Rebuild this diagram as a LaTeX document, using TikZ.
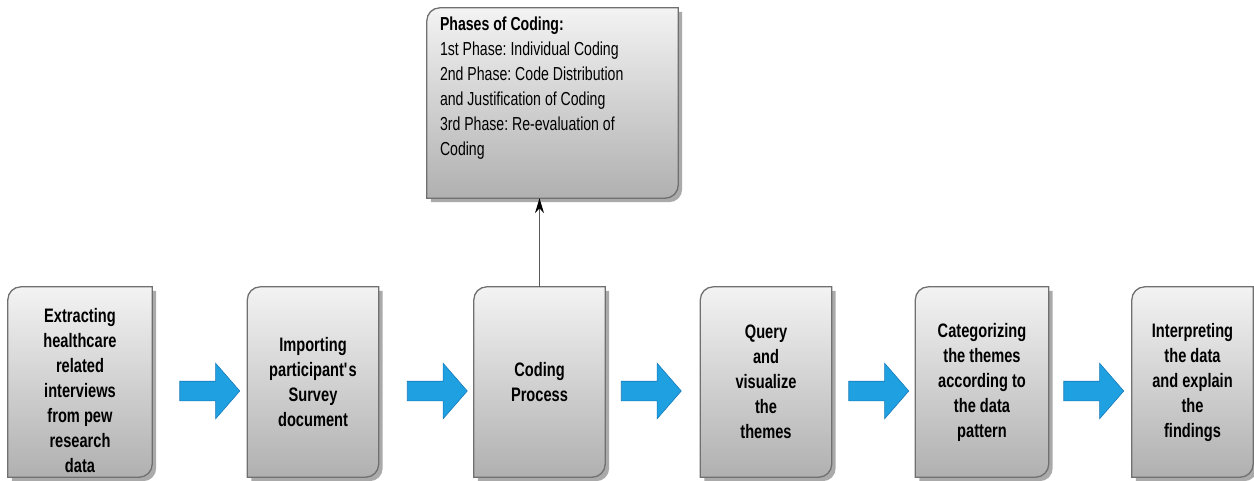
\documentclass[tikz,border=0pt]{standalone}
\usepackage{fontspec}
\setmainfont{Liberation Sans}[FakeStretch=0.75]
\usetikzlibrary{positioning,shapes.arrows,arrows.meta}
\pgfdeclarelayer{background}
\pgfsetlayers{background,main}

\definecolor{boxtop}{RGB}{243,243,243}
\definecolor{boxbottom}{RGB}{176,176,176}
\definecolor{boxline}{RGB}{112,112,112}
\definecolor{boxshadow}{RGB}{170,170,170}
\definecolor{flowblue}{RGB}{30,160,225}
\definecolor{flowblueline}{RGB}{24,122,186}

% outline with rounded top-left and bottom-right corners
\newcommand{\leafpath}[2]{([shift={#2}]#1.south west) -- ([shift={#2},yshift=-13pt]#1.north west)
  arc[start angle=180,end angle=90,radius=13pt] -- ([shift={#2}]#1.north east)
  -- ([shift={#2},yshift=13pt]#1.south east) arc[start angle=0,end angle=-90,radius=13pt] -- cycle}
\newcommand{\leafbox}[1]{%
  \begin{pgfonlayer}{background}
    \fill[boxshadow] \leafpath{#1}{(4,4)};
    \draw[draw=boxline,line width=1.3pt,top color=boxtop,bottom color=boxbottom] \leafpath{#1}{(0,0)};
  \end{pgfonlayer}}

\begin{document}
\frenchspacing
\begin{tikzpicture}[
	x=1pt,y=-1pt,
	leafnode/.style={
		rectangle,minimum width=131pt,minimum height=190pt,inner sep=0pt,
		align=center,font=\bfseries\fontsize{19.5}{25}\selectfont},
	phasetext/.style={
		anchor=north west,align=left,inner sep=0pt,
		font=\fontsize{18.8}{25}\selectfont},
	flowarrow/.style={
		single arrow,draw=flowblueline,fill=flowblue,line width=0.6pt,
		minimum height=60pt,minimum width=0pt,inner xsep=0pt,inner ysep=9.5pt,
		single arrow head extend=18pt,single arrow head indent=0pt,
		single arrow tip angle=98},
	link/.style={-{Stealth[length=15pt,width=9pt,color=black]},line width=1.3pt,draw=black!65}
	]
	\useasboundingbox (0,0) rectangle (1254,480);
	% process steps
	\node [leafnode, minimum width=144pt] (extract) at (80,382) {\rule{0pt}{32pt}Extracting\\healthcare\\related\\interviews\\from pew\\research\\data};
	\node [leafnode] (import) at (313,382) {Importing\\participant\textquotesingle s\\Survey\\document};
	\node [leafnode] (coding) at (539.5,382) {Coding\\Process};
	\node [leafnode] (query) at (766,382) {Query\\and\\visualize\\the\\themes};
	\node [leafnode, minimum width=133pt] (categorize) at (982,382) {Categorizing\\the themes\\according to\\the data\\pattern};
	\node [leafnode, minimum width=121pt] (interpret) at (1192.5,382) {Interpreting\\the data\\and explain\\the\\findings};
	% phases of coding
	\node [leafnode, minimum width=251pt] (phases) at (552.5,103) {};
	\node [phasetext] (phaseslist) at ([shift={(13,9)}]phases.north west) {\textbf{Phases of Coding:}\\
		1st Phase: Individual Coding\\2nd Phase: Code Distribution\\and Justification of Coding\\
		3rd Phase: Re-evaluation of\\Coding};
	\foreach \n in {extract,import,coding,query,categorize,interpret,phases}
		\leafbox{\n};
	% block arrows
	\node [flowarrow] (arrowA) at (205.5,391) {};
	\node [flowarrow] (arrowB) at (433,391) {};
	\node [flowarrow] (arrowC) at (647,391) {};
	\node [flowarrow] (arrowD) at (874.5,391) {};
	\node [flowarrow] (arrowE) at (1089.5,391) {};
	\draw [link] (coding.north) -- (coding.north |- phases.south);
\end{tikzpicture}
\end{document}
